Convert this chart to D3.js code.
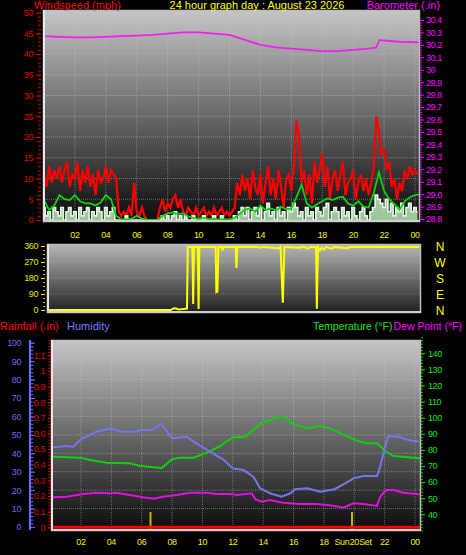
<!DOCTYPE html>
<html><head><meta charset="utf-8">
<script src="https://cdn.jsdelivr.net/npm/d3@7"></script>
<style>
html,body{margin:0;padding:0;background:#000;}
svg{display:block;}
</style></head><body>
<svg id="c" width="466" height="555"></svg>
<script>
// ---------------- DATA ----------------
const hourTicks = [2,4,6,8,10,12,14,16,18,20,22,24];
const hourLabels = ["02","04","06","08","10","12","14","16","18","20","22","00"];
const windTicks = [0,5,10,15,20,25,30,35,40,45,50];
const baroTicks = [28.8,28.9,29.0,29.1,29.2,29.3,29.4,29.5,29.6,29.7,29.8,29.9,30.0,30.1,30.2,30.3,30.4];
const dirTicks = [0,90,180,270,360];
const dirLetters = ["N","W","S","E","N"];
const dirLetterDeg = [360,270,180,90,0];
const humTicks = [0,10,20,30,40,50,60,70,80,90,100];
const rainTicks = [0,0.1,0.2,0.3,0.4,0.5,0.6,0.7,0.8,0.9,1.0,1.1];
const tempTicks = [40,50,60,70,80,90,100,110,120,130,140];

// wind gust (mph), one value every 10 minutes from 00:00
const windGust = [
 11,8,13,9,12,10, 13,9,12,14,8,11, 10,14,7,12,9,13, 8,11,6,12,9,10,
 13,9,12,11,10,2, 1,2,1,3,1,9, 2,1,3,1,0,0, 0,0,0,3,5,2,
 4,3,5,6,3,5, 2,1,3,2,1,3, 1,2,3,1,2,1, 3,1,2,3,1,2,
 1,2,3,9,6,11, 7,10,5,12,8,6, 11,4,9,13,6,10, 5,12,8,3,10,11,
 7,13,24,20,9,12, 6,11,4,14,9,12, 16,8,13,5,10,12, 7,11,14,6,9,10,
 12,5,9,11,7,10, 6,9,13,25,21,16, 17,12,14,8,10,5, 9,7,12,10,13,11,
 12,11];
// wind speed (mph), every 10 minutes
const windSpeed = [
 3,1,2,0,3,2, 1,3,0,2,3,1, 2,0,3,1,2,3, 0,2,1,3,2,0,
 3,1,2,3,0,0, 0,0,1,0,0,0, 0,0,0,0,0,0, 0,0,0,0,1,0,
 1,0,1,2,0,1, 0,1,0,0,1,0, 0,0,1,0,0,0, 1,0,0,1,0,0,
 0,0,1,0,2,3, 1,3,0,2,3,1, 3,0,2,4,1,2, 0,3,1,2,0,3,
 2,4,3,1,2,0, 3,1,2,0,3,2, 1,3,4,0,2,3, 2,0,3,1,2,0,
 3,1,0,2,3,1, 0,2,3,6,5,4, 3,5,2,4,1,3, 2,4,1,3,4,2,
 3,2];
// average wind (mph), every 20 minutes
const windAvg = [
 4.8,2.4,3.5, 6.0,5.0,4.8, 6.0,4.5,4.0, 4.0,3.5,4.2,
 6.0,5.0,1.0, 0.2,0.1,0.3, 1.0,0.3,0.1, 0,0,1.0,
 1.6,1.8,1.4, 1.6,0.8,0.5, 0.3,0.5,0.2, 0.3,0.1,0.2,
 0.1,0.5,1.5, 2.5,2.8,2.0, 3.5,2.4,2.8, 2.3,3.2,2.6,
 2.8,5.5,8.5, 4.0,3.0,3.8, 4.5,5.2,4.8, 5.4,5.6,4.0,
 3.5,4.5,3.2, 3.0,6.5,11.5, 7.0,5.0,3.8, 2.5,4.5,5.5,
 6.0,6.2];
const baroHours  = [0,1,2,3,4,5,6,7,8,9,10,11,12,13,14,15,16,17,18,19,20,21,21.5,21.7,22,23,24.3];
const baroValues = [30.27,30.265,30.26,30.26,30.265,30.27,30.275,30.28,30.29,30.30,30.30,30.29,30.28,30.24,30.20,30.18,30.17,30.16,30.15,30.15,30.16,30.17,30.18,30.24,30.235,30.225,30.22];

const dirHours  = [0,8.2,8.4,8.55,8.7,9.0,9.25,9.3,9.6,9.65,9.7,9.95,10.0,10.05,11.1,11.15,11.22,11.28,11.5,11.55,11.6,12.4,12.45,12.5,13.8,14.0,14.2,15.2,15.3,15.45,15.55,16.5,16.8,17.1,17.2,17.6,17.65,17.72,17.85,17.95,18.1,18.25,18.6,18.8,19.6,19.8,24.3];
const dirValues = [0,0,10,8,3,5,8,355,355,34,355,355,5,355,355,100,103,355,355,335,355,355,236,355,355,350,355,348,355,41,355,350,355,345,355,355,7,355,335,350,340,355,345,355,348,355,355];

const humHours  = [0,0.2,1.0,1.5,2.05,2.5,3.0,4.0,4.6,5.7,5.9,6.7,7.3,8.0,8.96,9.6,10.5,11.4,12.0,12.7,13.35,13.8,14.45,15.2,15.8,16.1,16.9,17.75,18.7,19.4,19.95,20.6,21.5,21.7,22.1,22.25,23.0,23.46,24.3];
const humValues = [43,43.2,44,43.6,48.1,49.5,51.7,53.5,51.7,51.7,52.6,52.6,55.9,48.1,49,45.4,40.9,36.4,31.8,30.9,27.3,21,18.3,16.4,18.3,20.5,21,19.2,20.5,23.7,26.4,27.7,27.7,32.7,45.4,49.4,48.8,47.4,46.3];
const tempHours  = [0,0.2,1.94,2.6,3.7,5.2,5.9,7.0,7.3,8.0,8.5,9.4,10.3,11.16,11.8,12.0,12.8,13.35,13.9,14.45,15.0,15.3,15.9,16.9,17.75,18.4,19.3,20.2,20.8,21.5,22.1,22.6,24.3];
const tempValues = [75.8,75.8,75.2,73.7,72,71.7,70,69,68.7,74.2,75.2,75.2,78.3,82.4,86.6,87.8,88.2,92.4,96.9,98.1,100.6,100.6,96.5,93.4,94.8,93.4,89.3,85.7,84.1,84.1,78.9,76.2,74.8];
const dewHours  = [0,0.2,1.05,2.15,3.0,3.9,4.3,5.2,6.1,6.8,7.4,8.3,9.2,10.3,10.9,11.8,12.3,13.25,13.5,13.9,14.45,15.3,16.4,17.5,18.4,19.3,19.95,20.6,21.5,21.7,22.1,22.6,23.2,24.3];
const dewValues = [50.6,50.6,50.9,52.6,53.4,53.0,53.4,52.0,50.6,49.7,50.9,52.0,53.4,53.4,52.6,52.6,52.0,53.0,49.3,47.8,48.9,47.2,46.4,46.4,45.6,44.3,46.8,46.4,45.2,50.9,55.1,55.1,53.4,52.4];
const rainHours  = [0,24.3];
const rainValues = [0,0];
const sunHours = [6.58,19.85];

// ---------------- DRAW ----------------
const FONT = "'Liberation Sans', Arial, sans-serif";
const svg = d3.select("#c");
svg.append("rect").attr("width",466).attr("height",555).attr("fill","#000");
const defs = svg.append("defs");
function grad(id, c1, c2){
  const g = defs.append("linearGradient").attr("id",id).attr("x1",0).attr("y1",0).attr("x2",0).attr("y2",1);
  g.append("stop").attr("offset","0%").attr("stop-color",c1);
  g.append("stop").attr("offset","100%").attr("stop-color",c2);
}
grad("gTop","#c6c6c6","#0a0a0a");
grad("gMid","#b8b8b8","#1e1e1e");
grad("gBot","#c6c6c6","#0a0a0a");
function clip(id,x,y,w,h){defs.append("clipPath").attr("id",id).append("rect").attr("x",x).attr("y",y).attr("width",w).attr("height",h);}

const boxTop = {x:43,y:10,w:377,h:212};
const boxMid = {x:47,y:244,w:374,h:69};
const boxBot = {x:51,y:340,w:370,h:191};
clip("cTop",boxTop.x,boxTop.y,boxTop.w,boxTop.h);
clip("cMid",boxMid.x,boxMid.y,boxMid.w,boxMid.h);
clip("cBot",boxBot.x,boxBot.y,boxBot.w,boxBot.h);

const xTop = d3.scaleLinear().domain([0,24]).range([44,415]);
const yWind = d3.scaleLinear().domain([0,50]).range([220,12.5]);
const yBaro = d3.scaleLinear().domain([28.8,30.4]).range([219,20]);
const yDir = d3.scaleLinear().domain([0,360]).range([310,246]);
const xBot = d3.scaleLinear().domain([0,24]).range([50.6,415]);
const yHum = d3.scaleLinear().domain([0,100]).range([527,342.7]);
const yRain = d3.scaleLinear().domain([0,1.2]).range([527.3,339.6]);
const yTemp = d3.scaleLinear().domain([30,150]).range([530.4,337.2]);

function panel(b, fill){
  svg.append("rect").attr("x",b.x).attr("y",b.y).attr("width",b.w).attr("height",b.h).attr("fill",fill);
}
function frame(b){
  svg.append("rect").attr("x",b.x+0.5).attr("y",b.y+0.5).attr("width",b.w-1).attr("height",b.h-1)
    .attr("fill","none").attr("stroke","#bdbdbd").attr("stroke-width",1.5);
  svg.append("line").attr("x1",b.x+1).attr("x2",b.x+1).attr("y1",b.y).attr("y2",b.y+b.h).attr("stroke","#e8e8e8").attr("stroke-width",2);
  svg.append("line").attr("x1",b.x).attr("x2",b.x+b.w).attr("y1",b.y+b.h-1).attr("y2",b.y+b.h-1).attr("stroke","#d0d0d0").attr("stroke-width",2);
}
panel(boxTop,"url(#gTop)");
panel(boxMid,"url(#gMid)");
panel(boxBot,"url(#gBot)");

// grids
const gridStyle = s => s.attr("stroke","#c8c8c8").attr("stroke-opacity",0.45).attr("stroke-width",1).attr("stroke-dasharray","1,1");
const gT = svg.append("g").attr("clip-path","url(#cTop)");
gT.selectAll("line.v").data(hourTicks).join("line").attr("x1",d=>xTop(d)).attr("x2",d=>xTop(d)).attr("y1",boxTop.y).attr("y2",boxTop.y+boxTop.h).call(gridStyle);
gT.selectAll("line.h").data(windTicks.slice(1)).join("line").attr("class","h").attr("x1",boxTop.x).attr("x2",boxTop.x+boxTop.w).attr("y1",d=>yWind(d)).attr("y2",d=>yWind(d)).call(gridStyle);
const gM = svg.append("g").attr("clip-path","url(#cMid)");
gM.selectAll("line").data(dirTicks.slice(1,4)).join("line").attr("x1",boxMid.x).attr("x2",boxMid.x+boxMid.w).attr("y1",d=>yDir(d)).attr("y2",d=>yDir(d)).call(gridStyle).attr("stroke-opacity",0.3);
const gB = svg.append("g").attr("clip-path","url(#cBot)");
gB.selectAll("line.v").data(hourTicks).join("line").attr("x1",d=>xBot(d)).attr("x2",d=>xBot(d)).attr("y1",boxBot.y).attr("y2",boxBot.y+boxBot.h).call(gridStyle);
gB.selectAll("line.h").data(humTicks.slice(1,10)).join("line").attr("class","h").attr("x1",boxBot.x).attr("x2",boxBot.x+boxBot.w).attr("y1",d=>yHum(d)).attr("y2",d=>yHum(d)).call(gridStyle);

frame(boxTop); frame(boxMid); frame(boxBot);

// ---- top chart lines
const lineGust = d3.line().x((d,i)=>xTop(i/6)).y(d=>yWind(d)).curve(d3.curveLinear);
const areaSpd = d3.area().x((d,i)=>xTop(i/6)).y0(yWind(0)+1).y1(d=>yWind(d)).curve(d3.curveStep);
const lineSpd = d3.line().x((d,i)=>xTop(i/6)).y(d=>yWind(d)).curve(d3.curveStep);
const lineAvg = d3.line().x((d,i)=>xTop(i/3)).y(d=>yWind(d)).curve(d3.curveLinear);
const lineBaro = d3.line().x((d,i)=>xTop(baroHours[i])).y(d=>yBaro(d));
gT.append("path").attr("d",lineBaro(baroValues)).attr("fill","none").attr("stroke","#f020f0").attr("stroke-width",1.8);
gT.append("path").attr("d",lineGust(windGust)).attr("fill","none").attr("stroke","#ff0000").attr("stroke-width",2.2);
gT.append("path").attr("d",areaSpd(windSpeed)).attr("fill","#b8e6b8").attr("fill-opacity",0.85);
gT.append("path").attr("d",lineSpd(windSpeed)).attr("fill","none").attr("stroke","#e4fae4").attr("stroke-width",1.6);
gT.append("path").attr("d",lineAvg(windAvg)).attr("fill","none").attr("stroke","#10d010").attr("stroke-width",1.8);

// ---- middle
const lineDir = d3.line().x((d,i)=>xTop(dirHours[i])).y(d=>yDir(d));
gM.append("path").attr("d",lineDir(dirValues)).attr("fill","none").attr("stroke","#ffff00").attr("stroke-width",2);

// ---- bottom
const lineH = d3.line().x((d,i)=>xBot(humHours[i])).y(d=>yHum(d));
const lineT = d3.line().x((d,i)=>xBot(tempHours[i])).y(d=>yTemp(d));
const lineD = d3.line().x((d,i)=>xBot(dewHours[i])).y(d=>yTemp(d));
const lineR = d3.line().x((d,i)=>xBot(rainHours[i])).y(d=>yRain(d));
gB.selectAll("line.sun").data(sunHours).join("line").attr("class","sun").attr("x1",d=>xBot(d)).attr("x2",d=>xBot(d)).attr("y1",512).attr("y2",530).attr("stroke","#c8b400").attr("stroke-width",2);
gB.append("path").attr("d",lineD(dewValues)).attr("fill","none").attr("stroke","#e010e0").attr("stroke-width",2);
gB.append("path").attr("d",lineT(tempValues)).attr("fill","none").attr("stroke","#10d010").attr("stroke-width",2);
gB.append("path").attr("d",lineH(humValues)).attr("fill","none").attr("stroke","#7676ec").attr("stroke-width",2);
gB.append("path").attr("d",lineR(rainValues)).attr("fill","none").attr("stroke","#ff0000").attr("stroke-width",3);

// ---- axes
function styleAxis(g, color, fs){
  g.select(".domain").remove();
  g.attr("font-family",FONT).attr("font-size",fs);
  g.selectAll(".tick line").attr("stroke",color);
  g.selectAll(".tick text").attr("fill",color).style("letter-spacing","-0.4px");
}
function minor(axisFn, scale, vals, x, size, color){
  const g = svg.append("g").attr("transform",`translate(${x},0)`).call(axisFn(scale).tickValues(vals).tickSize(size).tickFormat(""));
  g.select(".domain").remove();
  g.selectAll(".tick line").attr("stroke",color);
}
// wind
minor(d3.axisLeft, yWind, d3.range(0,50.01,1), 41, 3, "#d00000");
styleAxis(svg.append("g").attr("transform","translate(41,0)").call(d3.axisLeft(yWind).tickValues(windTicks).tickSize(5).tickPadding(3)),"#e00000",9);
// baro
minor(d3.axisRight, yBaro, d3.range(28.8,30.401,0.02), 420, 2, "#e000e0");
styleAxis(svg.append("g").attr("transform","translate(420,0)").call(d3.axisRight(yBaro).tickValues(baroTicks).tickSize(4).tickPadding(2).tickFormat(d=>Math.abs(d-30)<1e-6?"30":d.toFixed(1))),"#ff00ff",9);
// dir
minor(d3.axisLeft, yDir, d3.range(0,360.1,22.5), 45, 2, "#c8c800");
styleAxis(svg.append("g").attr("transform","translate(45,0)").call(d3.axisLeft(yDir).tickValues(dirTicks).tickSize(4).tickPadding(3)),"#e8e800",9);
svg.selectAll("text.dl").data(dirLetters).join("text").attr("class","dl")
  .attr("x",440).attr("y",(d,i)=>yDir(dirLetterDeg[i])+4.5).attr("text-anchor","middle")
  .attr("fill","#ffff00").attr("font-family",FONT).attr("font-size",12).text(d=>d);
// humidity
svg.append("line").attr("x1",30).attr("x2",30).attr("y1",340).attr("y2",530).attr("stroke","#6a6af0").attr("stroke-width",2.2);
minor(d3.axisLeft, yHum, d3.range(0,100.1,2), 31, -2.5, "#6a6af0");
styleAxis(svg.append("g").attr("transform","translate(31,0)").call(d3.axisLeft(yHum).tickValues(humTicks).tickSize(-4).tickPadding(10)),"#6a6af0",9);
// rain
minor(d3.axisLeft, yRain, d3.range(0,1.201,0.02), 51, 2.5, "#d00000");
styleAxis(svg.append("g").attr("transform","translate(51,0)").call(d3.axisLeft(yRain).tickValues(rainTicks).tickSize(3).tickPadding(3).tickFormat(d=>d===0?"0":(d===1?"1":String(d)))),"#e00000",9);
// temperature
minor(d3.axisRight, yTemp, d3.range(30,150.1,2), 421, 2, "#10c010");
styleAxis(svg.append("g").attr("transform","translate(421,0)").call(d3.axisRight(yTemp).tickValues(tempTicks).tickSize(4).tickPadding(3)),"#10e010",9);

// hour labels
svg.selectAll("text.ht").data(hourTicks).join("text").attr("class","ht")
  .attr("x",d=>xTop(d)).attr("y",238).attr("text-anchor","middle")
  .attr("fill","#f0f000").attr("font-family",FONT).attr("font-size",9).style("letter-spacing","-0.4px").text((d,i)=>hourLabels[i]);
svg.selectAll("text.hb").data(hourTicks).join("text").attr("class","hb")
  .attr("x",d=>xBot(d)).attr("y",545).attr("text-anchor","middle")
  .attr("fill","#f0f000").attr("font-family",FONT).attr("font-size",9).style("letter-spacing","-0.4px").text((d,i)=>hourLabels[i]);
// sunset marker label, split around the "20" hour label
svg.append("text").attr("x",xBot(20)-5).attr("y",545).attr("text-anchor","end")
  .attr("fill","#f0f000").attr("font-family",FONT).attr("font-size",9).style("letter-spacing","-0.4px").text("Sun");
svg.append("text").attr("x",xBot(20)+5).attr("y",545).attr("text-anchor","start")
  .attr("fill","#f0f000").attr("font-family",FONT).attr("font-size",9).style("letter-spacing","-0.4px").text("Set");

// titles
function title(x,y,txt,color,anchor,fs){
  svg.append("text").attr("x",x).attr("y",y).attr("fill",color).attr("font-family",FONT).attr("font-size",fs||11).attr("text-anchor",anchor||"start").text(txt);
}
title(34,9,"Windspeed (mph)","#ff0000");
title(257,9,"24 hour graph day : August 23 2026","#ffff00","middle");
title(440,9,"Barometer (.in)","#ff00ff","end");
title(0,330,"Rainfall (.in)","#ff0000");
title(67,330,"Humidity","#7b7bff");
title(313,330,"Temperature (°F)","#20e020","start",10.5);
title(462,330,"Dew Point (°F)","#ff00ff","end",10.5);
</script>
</body></html>
